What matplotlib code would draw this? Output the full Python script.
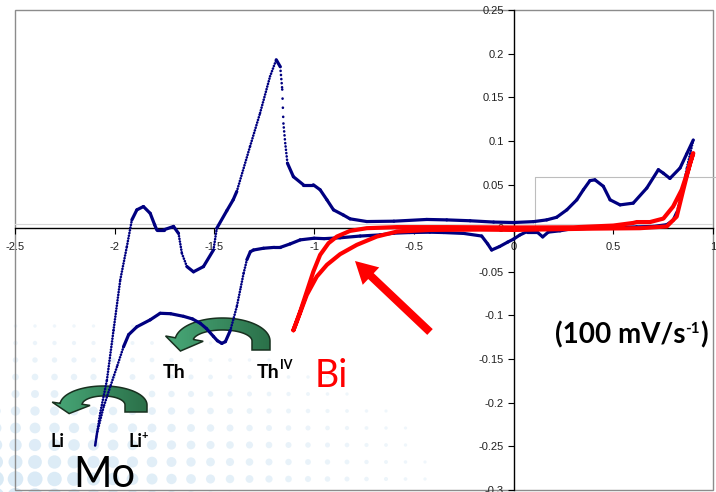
import numpy as np
import matplotlib
matplotlib.use("Agg")
import matplotlib.pyplot as plt
from matplotlib.collections import LineCollection
from matplotlib.colors import LinearSegmentedColormap
from matplotlib.patches import Polygon, Rectangle, FancyArrow
from matplotlib.ticker import FuncFormatter

plt.rcParams['font.family'] = ['Lato', 'DejaVu Sans']

# Mo electrode, cathodic sweep from +0.9 V down to -2.1 V (V, A)
mo_cath_E = [0.901, 0.885, 0.868, 0.851, 0.835, 0.818, 0.80, 0.768, 0.70, 0.617,
             0.45, 0.283, 0.233, 0.174, 0.146, 0.116, 0.066, 0.03, 0.0, -0.03,
             -0.07, -0.11, -0.13, -0.16, -0.25, -0.35, -0.42, -0.52, -0.60, -0.67,
             -0.769, -0.87, -0.95, -1.0, -1.07, -1.12, -1.17, -1.20, -1.254, -1.304,
             -1.32, -1.337, -1.354, -1.37, -1.388, -1.42, -1.445, -1.463, -1.485, -1.505,
             -1.54, -1.571, -1.61, -1.655, -1.72, -1.772, -1.822, -1.889, -1.93, -1.956,
             -1.989, -2.023, -2.056, -2.089, -2.098]
mo_cath_I = [0.101, 0.085, 0.068, 0.048, 0.032, 0.018, 0.009, 0.004, 0.002, 0.0015,
             0.0005, -0.001, -0.003, -0.0045, -0.010, -0.004, -0.004, -0.008, -0.0125, -0.016,
             -0.021, -0.025, -0.018, -0.009, -0.006, -0.005, -0.0046, -0.005, -0.0057, -0.0077,
             -0.009, -0.011, -0.012, -0.0115, -0.0134, -0.018, -0.022, -0.022, -0.023, -0.025,
             -0.027, -0.036, -0.052, -0.070, -0.090, -0.117, -0.130, -0.132, -0.129, -0.124,
             -0.115, -0.109, -0.104, -0.101, -0.098, -0.0975, -0.105, -0.113, -0.122, -0.136,
             -0.159, -0.182, -0.205, -0.235, -0.249]

# Mo electrode, anodic sweep back to +0.9 V
mo_anod_E = [-2.098, -2.073, -2.039, -2.006, -1.972, -1.939, -1.914, -1.889, -1.856, -1.822,
             -1.80, -1.789, -1.755, -1.705, -1.680, -1.663, -1.638, -1.605, -1.555, -1.505,
             -1.488, -1.438, -1.406, -1.388, -1.321, -1.271, -1.221, -1.19, -1.17, -1.16,
             -1.154, -1.145, -1.134, -1.104, -1.054, -1.004, -0.970, -0.936, -0.903, -0.853,
             -0.82, -0.736, -0.60, -0.435, -0.335, -0.218, -0.10, 0.0, 0.10, 0.166,
             0.216, 0.267, 0.317, 0.35, 0.383, 0.408, 0.45, 0.484, 0.534, 0.60,
             0.668, 0.726, 0.751, 0.784, 0.835, 0.868, 0.901]
mo_anod_I = [-0.249, -0.212, -0.174, -0.117, -0.059, -0.021, 0.0095, 0.021, 0.0248, 0.017,
             0.004, -0.002, -0.002, 0.002, -0.006, -0.029, -0.044, -0.050, -0.044, -0.025,
             0.0, 0.020, 0.0325, 0.042, 0.094, 0.132, 0.174, 0.193, 0.185, 0.159,
             0.120, 0.0975, 0.0745, 0.059, 0.0497, 0.0497, 0.044, 0.0325, 0.021, 0.015,
             0.0107, 0.0076, 0.008, 0.010, 0.0095, 0.0085, 0.007, 0.0065, 0.0075, 0.0095,
             0.0125, 0.021, 0.0325, 0.044, 0.0545, 0.0554, 0.048, 0.0325, 0.0267, 0.0287,
             0.046, 0.067, 0.063, 0.057, 0.069, 0.085, 0.101]

# Bi electrode, full loop
bi_E = [-1.104, -1.07, -1.037, -1.004, -0.97, -0.928, -0.886, -0.82, -0.736, -0.585,
        -0.335, 0.0, 0.30, 0.50, 0.60, 0.617, 0.684, 0.751, 0.80, 0.843,
        0.876, 0.901, 0.885, 0.851, 0.818, 0.768, 0.634, 0.40, 0.0, -0.168,
        -0.419, -0.585, -0.686, -0.786, -0.87, -0.936, -0.987, -1.037, -1.087, -1.104]
bi_I = [-0.117, -0.0956, -0.0727, -0.0498, -0.0306, -0.0172, -0.0096, -0.0031, 0.0, 0.0012,
        0.0012, 0.0008, 0.001, 0.003, 0.006, 0.007, 0.007, 0.011, 0.0248, 0.044,
        0.067, 0.086, 0.0745, 0.044, 0.0133, 0.002, 0.0, -0.0005, -0.002, -0.0016,
        -0.002, -0.0039, -0.0096, -0.0191, -0.0298, -0.042, -0.0555, -0.0765, -0.107, -0.117]

x_ticks = [-2.5, -2.0, -1.5, -1.0, -0.5, 0.0, 0.5, 1.0]
y_ticks = [-0.3, -0.25, -0.2, -0.15, -0.1, -0.05, 0.0, 0.05, 0.1, 0.15, 0.2, 0.25]

W, H = 716, 492
fig = plt.figure(figsize=(W / 100, H / 100), dpi=100)
fig.patch.set_facecolor('white')

# background layer in pixel units (y down) for the slide decorations
bg = fig.add_axes([0, 0, 1, 1])
bg.set_zorder(0)
bg.axis('off')
bg.patch.set_visible(False)

ax = fig.add_axes([15 / W, 2 / H, 698 / W, 480 / H])
ax.set_zorder(1)
ax.set_facecolor('none')

# halftone dots in the lower left corner
gx, gy = np.meshgrid(np.arange(-4, 450, 19.5), np.arange(H + 4, 320, -17))
gx, gy = gx.ravel(), gy.ravel()
strength = np.clip(1 - np.hypot(gx / 450, (H - gy) / 180), 0, 1)
keep = strength > 0.03
dot_px = 3 + 14 * strength[keep] ** 1.3
dot_col = np.zeros((keep.sum(), 4))
dot_col[:, :3] = [0.84, 0.91, 0.96]
dot_col[:, 3] = 0.35 + 0.6 * strength[keep]
bg.scatter(gx[keep], gy[keep], s=(dot_px * 0.72) ** 2, c=dot_col, linewidths=0)


def curved_arrow(cx, cy, rx, ry, bx, by, leg, head_w, head_len, theta_end):
    th = np.radians(np.linspace(0, theta_end, 80))
    outer = np.column_stack([cx + (rx + bx / 2) * np.cos(th), cy - (ry + by / 2) * np.sin(th)])
    inner = np.column_stack([cx + (rx - bx / 2) * np.cos(th), cy - (ry - by / 2) * np.sin(th)])[::-1]
    te = np.radians(theta_end)
    mid = np.array([cx + rx * np.cos(te), cy - ry * np.sin(te)])
    tang = np.array([-rx * np.sin(te), -ry * np.cos(te)])
    tang /= np.linalg.norm(tang)
    out = np.array([np.cos(te), -np.sin(te)])
    head = np.array([mid + out * head_w / 2, mid + tang * head_len, mid - out * head_w / 2])
    start = [[cx + rx + bx / 2, cy + leg]]
    end = [[cx + rx - bx / 2, cy + leg]]
    verts = np.vstack([start, outer, head, inner, end])
    poly = Polygon(verts, closed=True, facecolor='none', edgecolor='#18301f', lw=1.1, zorder=4)
    bg.add_patch(poly)
    grad = np.linspace(0, 1, 64).reshape(1, -1)
    cmap = LinearSegmentedColormap.from_list('arrow_green', ['#48a878', '#2b7049'])
    im = bg.imshow(grad, cmap=cmap, aspect='auto', zorder=3,
                   extent=(verts[:, 0].min(), verts[:, 0].max(), verts[:, 1].max(), verts[:, 1].min()))
    im.set_clip_path(poly)


curved_arrow(222.5, 341, 38.5, 17, 18, 12, 9, 38, 13, 172)
curved_arrow(103.5, 405, 32.5, 14, 22, 10, 7, 38, 10, 175)

bg.add_patch(FancyArrow(430, 332, -75, -71, width=8, head_width=24, head_length=22,
                        length_includes_head=True, color='#ff0000', lw=0, zorder=4))

bg.set_xlim(0, W)
bg.set_ylim(H, 0)


def run_text(x, y, parts):
    renderer = fig.canvas.get_renderer()
    for s, size, rise, kw in parts:
        t = bg.text(x, y - rise, s, fontsize=size, ha='left', va='baseline', **kw)
        x += t.get_window_extent(renderer=renderer).width


run_text(73, 487, [('Mo', 30, 0, {})])
run_text(315, 387, [('Bi', 27, 0, {'color': '#ff0000'})])
run_text(50, 447, [('Li', 13, 0, {'fontweight': 'bold'})])
run_text(128, 447, [('Li', 13, 0, {'fontweight': 'bold'}), ('+', 8, 8, {'fontweight': 'bold'})])
run_text(163, 378, [('Th', 14, 0, {'fontweight': 'bold'})])
run_text(257, 378, [('Th', 14, 0, {'fontweight': 'bold'}), ('IV', 9, 9, {'fontweight': 'bold'})])
run_text(555, 343, [('(100 mV/s', 20, 0, {'fontweight': 'bold'}),
                    ('-1', 11, 10, {'fontweight': 'bold'}),
                    (')', 20, 0, {'fontweight': 'bold'})])

# Mo voltammogram: fast-changing stretches show the individual samples
E = np.array(mo_cath_E + mo_anod_E[1:])
I = np.array(mo_cath_I + mo_anod_I[1:])
pts = np.column_stack([E, I])
segs = np.stack([pts[:-1], pts[1:]], axis=1)
dxp = np.abs(np.diff(E)) * 698 / 3.5
dyp = np.abs(np.diff(I)) * 480 / 0.55
ratio = dyp / np.maximum(dxp, 1e-6)
lws, styles = [], []
for r in ratio:
    if r < 2.6:
        lws.append(2.3)
        styles.append('solid')
    else:
        lw = 1.9
        gap_pt = np.clip(0.35 * r, 2.6, 9) * 0.72
        lws.append(lw)
        styles.append((0, (0.05, gap_pt / lw)))
lc = LineCollection(segs, colors='#000080', linewidths=lws, linestyles=styles,
                    capstyle='round', joinstyle='round', zorder=3)
ax.add_collection(lc)

ax.plot(bi_E, bi_I, color='#ff0000', lw=3.0, solid_joinstyle='round',
        solid_capstyle='round', zorder=4)

# faint leftovers of the plot-area furniture
ax.axhline(0.005, color='#d8d8d8', lw=0.8, zorder=1)
ax.plot([0.105, 0.105, 1.05], [0.0, 0.0585, 0.0585], color='#bdbdbd', lw=0.8,
        zorder=1, clip_on=False)
ax.add_patch(Rectangle((0, 0), 1, 1, transform=ax.transAxes, fill=False,
                       edgecolor='#8c8c8c', lw=1.0, clip_on=False, zorder=0))

ax.set_xlim(-2.5, 1.0)
ax.set_ylim(-0.3, 0.25)
ax.spines['left'].set_position(('data', 0))
ax.spines['bottom'].set_position(('data', 0))
ax.spines['top'].set_visible(False)
ax.spines['right'].set_visible(False)
for sp in ('left', 'bottom'):
    ax.spines[sp].set_color('black')
    ax.spines[sp].set_linewidth(1.0)
    ax.spines[sp].set_zorder(2)

fmt = FuncFormatter(lambda v, _: "0" if abs(v) < 1e-9 else f"{round(v, 3):g}")
ax.set_xticks(x_ticks)
ax.set_yticks(y_ticks)
ax.xaxis.set_major_formatter(fmt)
ax.yaxis.set_major_formatter(fmt)
ax.tick_params(direction='out', length=4, width=0.8, colors='black', labelcolor='#222222')
ax.tick_params(axis='x', pad=6)
ax.tick_params(axis='y', pad=3)
for lab in ax.get_xticklabels() + ax.get_yticklabels():
    lab.set_fontfamily(['Liberation Sans', 'DejaVu Sans'])
    lab.set_fontsize(8)

fig.savefig('out.png', dpi=100)
